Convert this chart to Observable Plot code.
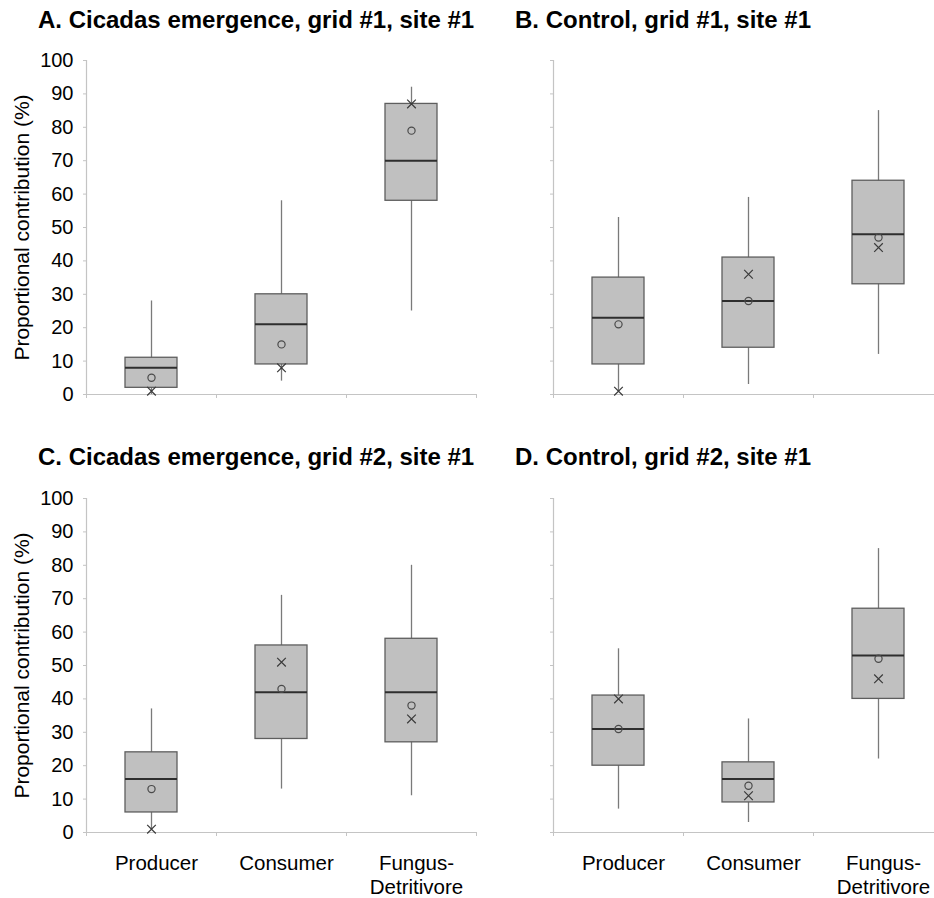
<!DOCTYPE html>
<html><head><meta charset="utf-8">
<script src="https://cdn.jsdelivr.net/npm/d3@7"></script>
<script src="https://cdn.jsdelivr.net/npm/@observablehq/plot@0.6"></script>
<style>
html,body{margin:0;padding:0;background:#fff;}
body{overflow:hidden;width:934px;height:898px;position:relative;font-family:"Liberation Sans",Arial,sans-serif;}
.panel{position:absolute;width:482px;}
.panel svg{background:transparent;max-width:none !important;}
.title{position:absolute;font-weight:bold;font-size:24px;line-height:24px;white-space:nowrap;color:#000;}
</style></head><body>
<script>
const categories = ["Producer", "Consumer", "Fungus-Detritivore"];
const categoryLabels = ["Producer", "Consumer", "Fungus-\nDetritivore"];
const yTicks = [0, 10, 20, 30, 40, 50, 60, 70, 80, 90, 100];
const yLabel = "Proportional contribution (%)";

const titles = [
  "A. Cicadas emergence, grid #1, site #1",
  "B. Control, grid #1, site #1",
  "C. Cicadas emergence, grid #2, site #1",
  "D. Control, grid #2, site #1"
];

// Panel A
const aLow    = [0, 4, 25];
const aQ1     = [2, 9, 58];
const aMedian = [8, 21, 70];
const aQ3     = [11, 30, 87];
const aHigh   = [28, 58, 92];
const aCircle = [5, 15, 79];
const aCross  = [1, 8, 87];

// Panel B
const bLow    = [1, 3, 12];
const bQ1     = [9, 14, 33];
const bMedian = [23, 28, 48];
const bQ3     = [35, 41, 64];
const bHigh   = [53, 59, 85];
const bCircle = [21, 28, 47];
const bCross  = [1, 36, 44];

// Panel C
const cLow    = [1, 13, 11];
const cQ1     = [6, 28, 27];
const cMedian = [16, 42, 42];
const cQ3     = [24, 56, 58];
const cHigh   = [37, 71, 80];
const cCircle = [13, 43, 38];
const cCross  = [1, 51, 34];

// Panel D
const dLow    = [7, 3, 22];
const dQ1     = [20, 9, 40];
const dMedian = [31, 16, 53];
const dQ3     = [41, 21, 67];
const dHigh   = [55, 34, 85];
const dCircle = [31, 14, 52];
const dCross  = [40, 11, 46];

function rows(lo, q1, med, q3, hi, circ, cross) {
  return categories.map((c, i) => ({i, cat: c, lo: lo[i], q1: q1[i], med: med[i], q3: q3[i], hi: hi[i], circ: circ[i], cross: cross[i]}));
}

const panels = [
  {data: rows(aLow, aQ1, aMedian, aQ3, aHigh, aCircle, aCross), left: 0, top: 40, showY: true, showX: false, title: titles[0], tl: 38, tt: 8},
  {data: rows(bLow, bQ1, bMedian, bQ3, bHigh, bCircle, bCross), left: 467, top: 40, showY: false, showX: false, title: titles[1], tl: 515, tt: 8},
  {data: rows(cLow, cQ1, cMedian, cQ3, cHigh, cCircle, cCross), left: 0, top: 478, showY: true, showX: true, title: titles[2], tl: 38, tt: 445},
  {data: rows(dLow, dQ1, dMedian, dQ3, dHigh, dCircle, dCross), left: 467, top: 478, showY: false, showX: true, title: titles[3], tl: 515, tt: 445}
];

const axisGray = "#c4c4c4";

for (const p of panels) {
  const marks = [
    Plot.ruleY([0], {stroke: axisGray, strokeWidth: 1.2}),
    Plot.ruleX([0], {stroke: axisGray, strokeWidth: 1.2}),
    Plot.axisY({ticks: yTicks, tickSize: 3, tickPadding: 10, stroke: axisGray, fill: "#000", fontSize: 20,
      tickFormat: p.showY ? (d => String(d)) : (() => ""), label: null}),
    Plot.axisX({ticks: [0, 1, 2, 3], tickSize: 4, stroke: axisGray, tickFormat: () => "", label: null}),
    Plot.ruleX(p.data, {x: d => d.i + 0.5, y1: "lo", y2: "hi", stroke: "#7a7a7a", strokeWidth: 1.3}),
    Plot.rectY(p.data, {x1: d => d.i + 0.3, x2: d => d.i + 0.7, y1: "q1", y2: "q3", fill: "#c0c0c0", stroke: "#5e5e5e", strokeWidth: 1.3}),
    Plot.ruleY(p.data, {x1: d => d.i + 0.3, x2: d => d.i + 0.7, y: "med", stroke: "#2e2e2e", strokeWidth: 2}),
    Plot.dot(p.data, {x: d => d.i + 0.5, y: "circ", r: 3.6, stroke: "#4a4a4a", fill: "none", strokeWidth: 1.2}),
    Plot.dot(p.data, {x: d => d.i + 0.5, y: "cross", symbol: "times", r: 4, stroke: "#3a3a3a", strokeWidth: 1.2})
  ];
  if (p.showY) {
    marks.push(Plot.text([yLabel], {text: d => d, frameAnchor: "left", rotate: -90, dx: -58, lineAnchor: "bottom", textAnchor: "middle", fontSize: 21, fill: "#000"}));
  }
  if (p.showX) {
    marks.push(Plot.axisX({ticks: [0.5, 1.5, 2.5], tickSize: 0, tickPadding: 20, dx: 5, fill: "#000", fontSize: 20.5, lineHeight: 1.17,
      tickFormat: v => categoryLabels[Math.floor(v)], label: null}));
  }
  const svg = Plot.plot({
    width: 482,
    height: p.showX ? 420 : 364,
    marginLeft: 86, marginRight: 6, marginTop: 20, marginBottom: p.showX ? 66 : 10,
    x: {type: "linear", domain: [0, 3], axis: null},
    y: {domain: [0, 100], axis: null},
    style: {fontFamily: "'Liberation Sans', Arial, sans-serif", fontSize: "20px", color: "#000", background: "transparent", overflow: "visible", maxWidth: "none"},
    marks
  });
  svg.style.maxWidth = "none";
  const div = document.createElement("div");
  div.className = "panel";
  div.style.left = p.left + "px";
  div.style.top = p.top + "px";
  div.appendChild(svg);
  document.body.appendChild(div);
  const t = document.createElement("div");
  t.className = "title";
  t.style.left = p.tl + "px";
  t.style.top = p.tt + "px";
  t.textContent = p.title;
  document.body.appendChild(t);
}
</script>
</body></html>
